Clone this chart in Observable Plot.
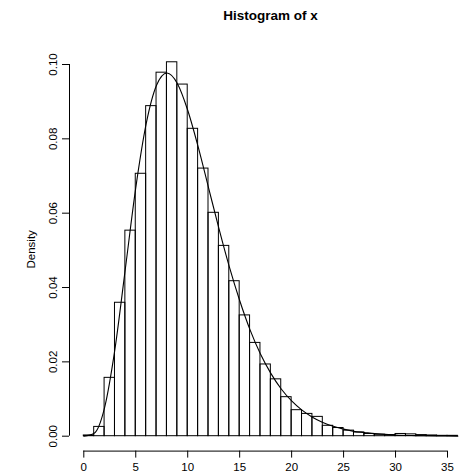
<!DOCTYPE html>
<html>
<head>
<meta charset="utf-8">
<script src="https://cdn.jsdelivr.net/npm/d3@7"></script>
<script src="https://cdn.jsdelivr.net/npm/@observablehq/plot@0.6"></script>
<style>
  html, body { margin: 0; padding: 0; background: #fff; }
  #chart svg { display: block; }
</style>
</head>
<body>
<div id="chart"></div>
<script>
// Histogram bin edges (width 1, from 0 to 36)
const binStarts = [0,1,2,3,4,5,6,7,8,9,10,11,12,13,14,15,16,17,18,19,20,21,22,23,24,25,26,27,28,29,30,31,32,33,34,35];
const binEnds   = [1,2,3,4,5,6,7,8,9,10,11,12,13,14,15,16,17,18,19,20,21,22,23,24,25,26,27,28,29,30,31,32,33,34,35,36];
// Bar densities
const densities = [0.0002,0.0025,0.0157,0.0359,0.0553,0.0706,0.0888,0.0978,0.1006,0.0946,
                   0.0827,0.0720,0.0601,0.0512,0.0417,0.0325,0.0251,0.0193,0.0153,0.0105,
                   0.0070,0.0060,0.0052,0.0028,0.0022,0.0015,0.0010,0.0006,0.0004,0.0003,
                   0.0006,0.0005,0.0003,0.0002,0.0001,0.0001];
// Density curve points
const curveX = [0,1,2,3,4,5,6,7,8,9,10,11,12,13,14,15,16,17,18,19,20,21,22,23,24,25,26,27,28,30,32,34,36];
const curveY = [0,0.0008,0.0077,0.0235,0.0451,0.0668,0.0840,0.0944,0.0977,0.0949,0.0877,0.0779,0.0669,0.0559,
                0.0456,0.0365,0.0286,0.0221,0.0169,0.0127,0.0095,0.0070,0.0051,0.0037,0.0027,0.0019,0.0013,
                0.0010,0.0007,0.0003,0.00015,0.00006,0.00003];
// Tick values
const xTicks = [0,5,10,15,20,25,30,35];
const yTicks = [0,0.02,0.04,0.06,0.08,0.10];
const titleText = "Histogram of x";
const yLabel = "Density";

const bins = binStarts.map((s, i) => ({x1: s, x2: binEnds[i], y: densities[i]}));
const curve = curveX.map((x, i) => ({x, y: curveY[i]}));
const fmt = d3.format(".2f");

const chart = Plot.plot({
  width: 468,
  height: 475,
  marginLeft: 69,
  marginRight: 10,
  marginTop: 47,
  marginBottom: 24.4,
  style: {fontFamily: "'Liberation Sans', Arial, Helvetica, sans-serif", fontSize: "11.5px", background: "#fff", color: "#000"},
  x: {domain: [0, 35], range: [83.3, 447], axis: null},
  y: {domain: [0, 0.1], range: [435.7, 64], axis: null},
  marks: [
    Plot.rectY(bins, {x1: "x1", x2: "x2", y: "y", fill: "none", stroke: "#000", strokeWidth: 1}),
    Plot.line(curve, {x: "x", y: "y", curve: "monotone-x", stroke: "#000", strokeWidth: 1.1}),
    // x axis
    Plot.ruleY([0], {x1: xTicks[0], x2: xTicks[xTicks.length - 1], dy: 14.9, stroke: "#000"}),
    Plot.axisX(xTicks, {anchor: "bottom", tickSize: 7, tickPadding: 5, fontSize: 11.5, tickFormat: d => String(d), label: null}),
    // y axis
    Plot.ruleX([0], {y1: yTicks[0], y2: yTicks[yTicks.length - 1], dx: -14.3, stroke: "#000"}),
    Plot.axisY(yTicks, {anchor: "left", tickSize: 7, tickFormat: () => "", label: null}),
    Plot.text(yTicks, {x: 0, y: d => d, text: d => fmt(d), rotate: -90, dx: -30, fontSize: 11.5, lineAnchor: "middle", textAnchor: "middle"}),
    Plot.text([yLabel], {frameAnchor: "left", text: d => d, rotate: -90, dx: -38, fontSize: 11.5, lineAnchor: "middle", textAnchor: "middle"}),
    // title
    Plot.text([titleText], {frameAnchor: "top", text: d => d, dx: 6.5, dy: -32.3, fontSize: 13.5, fontWeight: "bold", lineAnchor: "middle"})
  ]
});
document.getElementById("chart").appendChild(chart);
</script>
</body>
</html>
